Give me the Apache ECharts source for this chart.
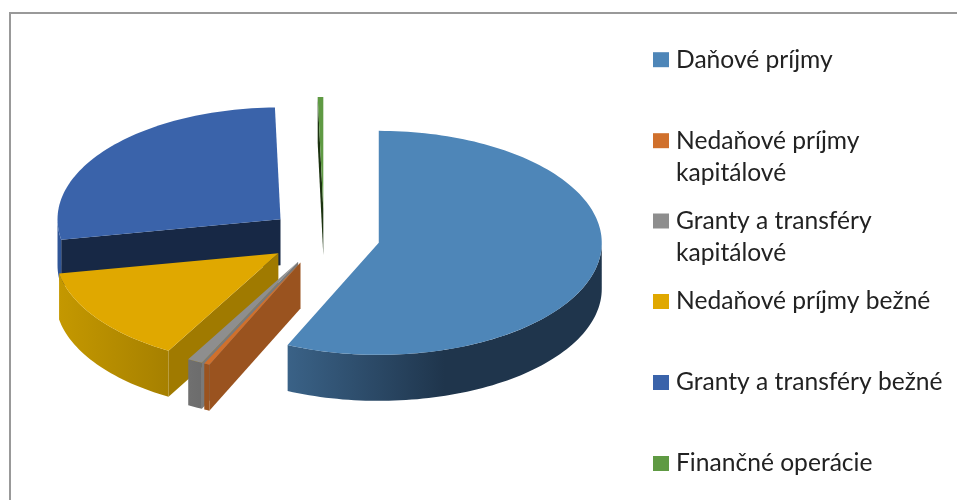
<!DOCTYPE html>
<html>
<head>
<meta charset="utf-8">
<style>
html, body { margin: 0; padding: 0; background: #fff; }
#main { width: 957px; height: 500px; filter: blur(0.4px); }
</style>
<script src="https://cdn.jsdelivr.net/npm/echarts@6/dist/echarts.min.js"></script>
</head>
<body>
<div id="main"></div>
<script>
// data, share of income in percent
const categories = ['Daňové príjmy', 'Nedaňové príjmy kapitálové', 'Granty a transféry kapitálové',
    'Nedaňové príjmy bežné', 'Granty a transféry bežné', 'Finančné operácie'];
const legendLabels = ['Daňové príjmy', '\nNedaňové príjmy\nkapitálové', '\nGranty a transféry\nkapitálové',
    'Nedaňové príjmy bežné', 'Granty a transféry bežné', 'Finančné operácie'];
const values = [56.7, 0.4, 1.1, 13.9, 27.5, 0.4];

// colours per slice: top face, cut face, outer wall left/right
const topColors = ['#4E86B8', '#D0702C', '#8E8E8E', '#E0A800', '#3A63AA', '#5F9A43'];
const cutColors = ['#1F354C', '#9A531F', '#7A7A7A', '#A07A00', '#172845', '#1C3310'];
const wallLeft = ['#3A6287', '#9A531F', '#707070', '#C49800', '#2F5597', '#1C3310'];
const wallRight = ['#1F354C', '#9A531F', '#6C6C6C', '#A68000', '#2F5597', '#1C3310'];
const wallStop = [0.5, 1, 1, 1, 1, 1];
// painting order, back to front
const drawOrder = [5, 4, 3, 2, 1, 0];

const pie = {cx: 324, cy: 237, rx: 223, ry: 112, depth: 46, explode: 56};
const legendCenters = [58.7, 139.7, 220, 300.5, 381.5, 462.5];

const total = values.reduce((a, b) => a + b, 0);
const toRad = Math.PI / 180;

// angle 0 = 12 o'clock, going clockwise
let startAngles = [];
let acc = 0;
values.forEach(v => {
    startAngles.push(acc);
    acc += v / total * 360;
});

function rim(apex, t) {
    return [apex[0] + pie.rx * Math.sin(t * toRad), apex[1] - pie.ry * Math.cos(t * toRad)];
}

function arcPoints(apex, t0, t1) {
    const steps = Math.max(2, Math.ceil((t1 - t0) / 1.5));
    let pts = [];
    for (let i = 0; i <= steps; i++) {
        pts.push(rim(apex, t0 + (t1 - t0) * i / steps));
    }
    return pts;
}

function down(p) {
    return [p[0], p[1] + pie.depth];
}

function renderSlice(idx) {
    const t0 = startAngles[idx];
    const t1 = t0 + values[idx] / total * 360;
    const mid = (t0 + t1) / 2;
    const apex = [
        pie.cx + pie.explode * Math.sin(mid * toRad),
        pie.cy - pie.explode * 0.5 * Math.cos(mid * toRad)
    ];
    let children = [];

    // cut faces, only those turned to the viewer
    if (Math.sin(t0 * toRad) < -0.001) {
        const o = rim(apex, t0);
        children.push({type: 'polygon', shape: {points: [apex, o, down(o), down(apex)]},
            style: {fill: cutColors[idx]}});
    }
    if (Math.sin(t1 * toRad) > 0.001) {
        const o = rim(apex, t1);
        children.push({type: 'polygon', shape: {points: [apex, o, down(o), down(apex)]},
            style: {fill: cutColors[idx]}});
    }

    // outer wall, front half of the ellipse only
    const a = Math.max(t0, 90);
    const b = Math.min(t1, 270);
    if (a < b) {
        const arc = arcPoints(apex, a, b);
        const bottom = arc.map(down).reverse();
        children.push({type: 'polygon', shape: {points: arc.concat(bottom)},
            style: {fill: new echarts.graphic.LinearGradient(0, 0, 1, 0, [
                {offset: 0, color: wallLeft[idx]},
                {offset: wallStop[idx], color: wallRight[idx]},
                {offset: 1, color: wallRight[idx]}
            ])}});
    }

    // top face
    children.push({type: 'polygon', shape: {points: [apex].concat(arcPoints(apex, t0, t1))},
        style: {fill: topColors[idx]}});

    return {type: 'group', children: children};
}

const series = categories.map((name, i) => ({
    type: 'custom',
    name: name,
    coordinateSystem: 'none',
    data: [values[i]],
    z: 2 + drawOrder.indexOf(i),
    itemStyle: {color: topColors[i]},
    renderItem: () => renderSlice(i)
}));

const legends = categories.map((name, i) => {
    const lines = legendLabels[i].split('\n').length;
    return {
        data: [name],
        orient: 'vertical',
        left: 653,
        top: legendCenters[i] - lines * 16,
        padding: 0,
        itemWidth: 16,
        itemHeight: 15,
        icon: 'rect',
        selectedMode: false,
        formatter: () => legendLabels[i],
        textStyle: {
            fontFamily: 'Lato',
            fontSize: 24.6,
            lineHeight: 32,
            color: '#222222',
            padding: [2, 0, 0, 2]
        }
    };
});

let myChart = echarts.init(document.getElementById('main'), null, {renderer: 'canvas'});
myChart.setOption({
    animation: false,
    backgroundColor: '#ffffff',
    legend: legends,
    series: series,
    graphic: [
        // frame of the pasted picture
        {type: 'rect', shape: {x: 9, y: 12, width: 948, height: 2}, style: {fill: '#999999'}, silent: true},
        {type: 'rect', shape: {x: 9, y: 12, width: 2, height: 488}, style: {fill: '#999999'}, silent: true}
    ]
});
</script>
</body>
</html>
